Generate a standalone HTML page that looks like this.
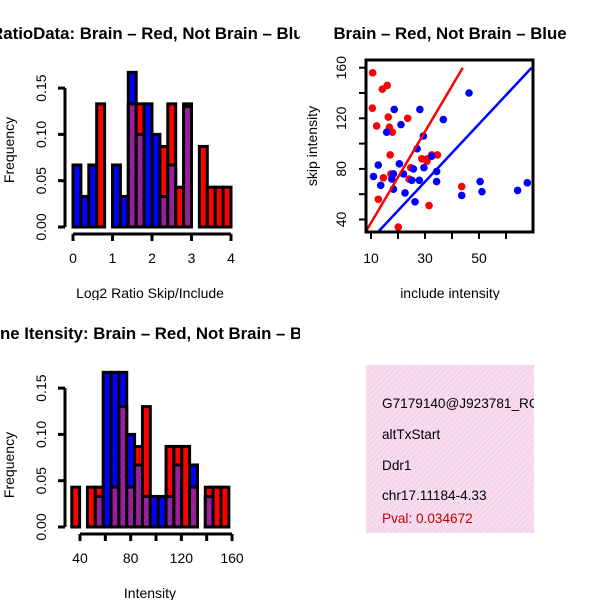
<!DOCTYPE html>
<html><head><meta charset="utf-8"><style>
body{margin:0;background:#fff}
svg{display:block;font-family:"Liberation Sans",sans-serif}
</style></head><body>
<svg id="c" width="600" height="600" viewBox="0 0 600 600" xmlns="http://www.w3.org/2000/svg">
<defs>
<pattern id="hatch" width="4" height="4" patternUnits="userSpaceOnUse" patternTransform="rotate(45)"><rect width="4" height="4" fill="#a020a0"/><line x1="0" y1="0" x2="0" y2="4" stroke="#7a1a8a" stroke-width="1.5"/></pattern>
<pattern id="pinkhatch" width="4" height="4" patternUnits="userSpaceOnUse" patternTransform="rotate(45)"><rect width="4" height="4" fill="#f7dcef"/><line x1="0" y1="0" x2="0" y2="4" stroke="#efbfe0" stroke-width="1"/></pattern>
<clipPath id="cp1"><rect x="0" y="0" width="300" height="300"/></clipPath>
<clipPath id="cp2"><rect x="300" y="0" width="300" height="300"/></clipPath>
<clipPath id="cp3"><rect x="0" y="300" width="300" height="300"/></clipPath>
<clipPath id="cpPlot"><rect x="366" y="60" width="167" height="172"/></clipPath>
<clipPath id="cpInfo"><rect x="366" y="365" width="168" height="168"/></clipPath>
</defs>
<g id="p1" clip-path="url(#cp1)"></g>
<g id="p2" clip-path="url(#cp2)"></g>
<g id="p3" clip-path="url(#cp3)"></g>
<g id="p4">
<rect x="366" y="365" width="168" height="168" fill="url(#pinkhatch)"/>
<g clip-path="url(#cpInfo)" font-size="13.6">
<text x="382" y="408">G7179140@J923781_RC</text>
<text x="382" y="439">altTxStart</text>
<text x="382" y="470">Ddr1</text>
<text x="382" y="500">chr17.11184-4.33</text>
<text x="382" y="523" fill="#c00000">Pval: 0.034672</text>
</g></g>
</svg>
<script>
// ---- Histogram 1: log2 ratio ----
const h1Start = 0, h1Width = 0.2;
const h1Blue = [0.067,0.033,0.067,0,0,0.067,0.033,0.167,0.1,0.133,0.1,0.033,0.067,0,0.133,0,0,0,0,0];
const h1Red  = [0,0,0,0.133,0,0,0,0.133,0.133,0,0,0.087,0.133,0.043,0.13,0,0.087,0.043,0.043,0.043];
const h1XTicks = [0,1,2,3,4];
const h1YTicks = [0,0.05,0.1,0.15];
const h1YLabels = ["0.00","0.05","0.10","0.15"];
// ---- Histogram 2: intensity ----
const h2Start = 33.5, h2Width = 6.2;
const h2Blue = [0,0,0,0.033,0.167,0.167,0.167,0.1,0.067,0.033,0.033,0.033,0.033,0.067,0,0.067,0,0.033,0,0];
const h2Red  = [0.043,0,0.043,0.043,0,0.043,0.13,0.043,0.087,0.13,0,0,0.087,0.087,0.087,0.043,0,0.043,0.043,0.043];
const h2XTicks = [40,60,80,100,120,140,160];
const h2XLabels = [40,80,120,160];
const h2YTicks = [0,0.05,0.1,0.15];
const h2YLabels = ["0.00","0.05","0.10","0.15"];
// ---- Scatter ----
const redX = [10.6,14.2,16,10.5,12.1,16.4,23.6,16.8,17.9,17.1,14.6,17.4,12.7,20.1,31.5,24.1,24.7,28.8,30.9,32.5,34.6,43.6,30.7];
const redY = [156,143,146,128,114,121,120,113,109,91,73,76,56,34,51,72,81,88,88,91,91,66,86];
const blueX = [46.3,18.6,28.1,36.8,21.1,15.8,29.4,27.1,12.7,20.5,32.5,29.6,25.7,10.9,18.3,22,17.7,25.1,27.9,34.3,34.3,13.6,18.3,22.6,26.3,43.6,50.4,51.1,64.3,67.9];
const blueY = [140,127,127,119,115,109,106,96,83,84,90,81,80,74,76,76,72,71,71,78,70,67,64,61,54,59,70,62,63,69];
const redLine = [[8.1,30.5],[44,160]];
const blueLine = [[12.1,29],[69.5,160]];
const scXTicks = [10,20,30,40,50,60];
const scXLabels = [10,30,50];
const scYTicks = [40,60,80,100,120,140,160];
const scYLabels = [40,80,120,160];

const NS = "http://www.w3.org/2000/svg";
const TF = 14, TT = 16.8;
function mk(parent, tag, attrs, text){
  const e = document.createElementNS(NS, tag);
  for (const k in attrs) e.setAttribute(k, attrs[k]);
  if (text !== undefined) e.textContent = text;
  parent.appendChild(e); return e;
}
function hist(g, start, width, blue, red, sx, sy, xTicks, xLabels, yTicks, yLabels, axisY, xlab, title, titleY, xlabY, freqY){
  let t = mk(g,'text',{x:152,y:titleY,'text-anchor':'middle','font-size':TT,'font-weight':'bold'},title);
  
  
  for (let i=0;i<blue.length;i++){
    const x0 = sx(start+i*width), x1 = sx(start+(i+1)*width);
    const b = blue[i], r = red[i];
    const hi = Math.max(b,r), lo = Math.min(b,r);
    if (hi>0){
      const rc = mk(g,'rect',{x:x0,y:sy(hi),width:x1-x0,height:sy(0)-sy(hi),fill:b>=r?'#0000ff':'#ff0000',stroke:'#000','stroke-width':3});
      
      
    }
    if (lo>0){
      const rc = mk(g,'rect',{x:x0,y:sy(lo),width:x1-x0,height:sy(0)-sy(lo),fill:'url(#hatch)',stroke:'#000','stroke-width':3});
      
      
    }
  }
  const ya = mk(g,'line',{x1:65,x2:65,y1:sy(yTicks[0]),y2:sy(yTicks[yTicks.length-1]),stroke:'#000','stroke-width':3});
  
  
  yTicks.forEach((v,i)=>{
    mk(g,'line',{x1:58,x2:65,y1:sy(v),y2:sy(v),stroke:'#000','stroke-width':3});
    const tl = mk(g,'text',{x:0,y:0,transform:`translate(46,${sy(v)}) rotate(-90)`,'text-anchor':'middle','font-size':TF},yLabels[i]);
    
    
  });
  const xa = mk(g,'line',{x1:sx(xTicks[0]),x2:sx(xTicks[xTicks.length-1]),y1:axisY,y2:axisY,stroke:'#000','stroke-width':3});
  
  
  xTicks.forEach(v=>mk(g,'line',{x1:sx(v),x2:sx(v),y1:axisY,y2:axisY+7,stroke:'#000','stroke-width':3}));
  xLabels.forEach(v=>{
    const tl = mk(g,'text',{x:sx(v),y:axisY+29,'text-anchor':'middle','font-size':TF},v);
    
    
  });
  const xl = mk(g,'text',{x:150,y:xlabY,'text-anchor':'middle','font-size':TF},xlab);
  
  
  const fl = mk(g,'text',{x:0,y:0,transform:`translate(14,${freqY}) rotate(-90)`,'text-anchor':'middle','font-size':TF},'Frequency');
  
  
}
const p1 = document.getElementById('p1');
hist(p1,h1Start,h1Width,h1Blue,h1Red,
  v=>73+v*39.5, v=>227-v*926,
  h1XTicks,h1XTicks,h1YTicks,h1YLabels,234,'Log2 Ratio Skip/Include',
  'RatioData: Brain – Red, Not Brain – Blue',39,298,150);
const p3 = document.getElementById('p3');
hist(p3,h2Start,h2Width,h2Blue,h2Red,
  v=>80+(v-40)*1.267, v=>527-v*926,
  h2XTicks,h2XLabels,h2YTicks,h2YLabels,534,'Intensity',
  'Gene Itensity: Brain – Red, Not Brain – Blue',339,598,465);
const p2 = document.getElementById('p2');
const sx = v=>371+(v-10)*2.7, sy = v=>67.7+(160-v)*1.265;
let st = mk(p2,'text',{x:450,y:39,'text-anchor':'middle','font-size':TT,'font-weight':'bold'},'Brain – Red, Not Brain – Blue');


const pg = mk(p2,'g',{'clip-path':'url(#cpPlot)'});
for (let i=0;i<redX.length;i++){
  const c = mk(pg,'circle',{cx:sx(redX[i]),cy:sy(redY[i]),r:3.8,fill:'#ff0000'});
  
  
}
for (let i=0;i<blueX.length;i++){
  const c = mk(pg,'circle',{cx:sx(blueX[i]),cy:sy(blueY[i]),r:3.8,fill:'#0000ff'});
  
  
}
let rl = mk(pg,'line',{x1:sx(redLine[0][0]),y1:sy(redLine[0][1]),x2:sx(redLine[1][0]),y2:sy(redLine[1][1]),stroke:'#ff0000','stroke-width':2.5});


let bl = mk(pg,'line',{x1:sx(blueLine[0][0]),y1:sy(blueLine[0][1]),x2:sx(blueLine[1][0]),y2:sy(blueLine[1][1]),stroke:'#0000ff','stroke-width':2.5});


let fr = mk(p2,'rect',{x:366,y:60,width:167,height:172,fill:'none',stroke:'#000','stroke-width':3});


scXTicks.forEach(v=>mk(p2,'line',{x1:sx(v),x2:sx(v),y1:232,y2:239,stroke:'#000','stroke-width':2}));
scXLabels.forEach(v=>{
  const tl = mk(p2,'text',{x:sx(v),y:263,'text-anchor':'middle','font-size':TF},v);
  
  
});
scYTicks.forEach(v=>mk(p2,'line',{x1:359,x2:366,y1:sy(v),y2:sy(v),stroke:'#000','stroke-width':2}));
scYLabels.forEach(v=>{
  const tl = mk(p2,'text',{x:0,y:0,transform:`translate(346,${sy(v)}) rotate(-90)`,'text-anchor':'middle','font-size':TF},v);
  
  
});
let sxl = mk(p2,'text',{x:450,y:298,'text-anchor':'middle','font-size':TF},'include intensity');


let syl = mk(p2,'text',{x:0,y:0,transform:'translate(317,146) rotate(-90)','text-anchor':'middle','font-size':TF},'skip intensity');


</script>
</body></html>
